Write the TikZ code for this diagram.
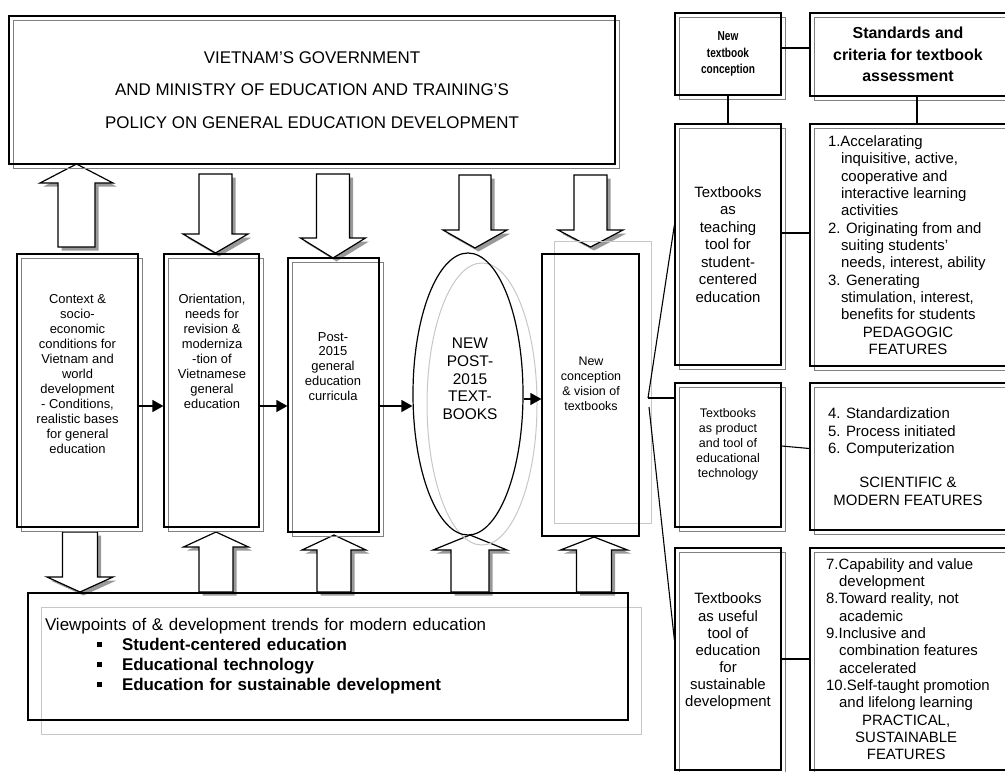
\documentclass[tikz,border=0pt]{standalone}
\usepackage{fontspec}
\setmainfont{Liberation Sans}
\newfontfamily\narrowsans[FakeStretch=0.78]{Liberation Sans}
\usetikzlibrary{arrows.meta,shapes.geometric}

% block arrow: x, tail y, head y, tip y, half shaft, half head (bp, y counted downwards)
\newcommand{\barrow}[6]{%
  \fill [black!40,shift={(3.5bp,-3.5bp)}] (#1bp-#5bp,-#2bp) -- (#1bp-#5bp,-#3bp) -- (#1bp-#6bp,-#3bp) -- (#1bp,-#4bp)
    -- (#1bp+#6bp,-#3bp) -- (#1bp+#5bp,-#3bp) -- (#1bp+#5bp,-#2bp) -- cycle;
  \draw [line width=1.2bp,fill=white] (#1bp-#5bp,-#2bp) -- (#1bp-#5bp,-#3bp) -- (#1bp-#6bp,-#3bp) -- (#1bp,-#4bp)
    -- (#1bp+#6bp,-#3bp) -- (#1bp+#5bp,-#3bp) -- (#1bp+#5bp,-#2bp) -- cycle;}
\newcommand{\critind}{\hspace*{13bp}}
\newcommand{\critmid}[1]{\makebox[160bp]{#1}}
\newcommand{\trendbul}{\hspace*{52bp}\rule[3.5bp]{5bp}{5bp}\hspace*{20bp}}

\begin{document}
\begin{tikzpicture}[
  box/.style={draw,line width=1.2bp,inner sep=0pt,
    preaction={draw=black!50,line width=1bp,transform canvas={shift={(4bp,-4bp)}}}},
  faint/.style={draw,line width=1.2bp,inner sep=0pt,
    preaction={draw=black!22,line width=1bp,transform canvas={shift={#1}}}},
  flow/.style={line width=1.3bp,-{Triangle[length=11bp,width=12bp]}},
  link/.style={line width=1.1bp},
  colt/.style={align=center,font=\fontsize{13}{15}\selectfont},
  crit/.style={align=left,font=\fontsize{15}{17.4}\selectfont}
]
\useasboundingbox (0bp,0bp) rectangle (1005bp,-772bp);

% block arrows
\barrow{76.5}{247}{183}{164}{18.5}{36.5}
\barrow{215.5}{174}{234}{253}{16.5}{32.5}
\barrow{333}{174}{238}{258}{16.5}{32.5}
\barrow{475}{175}{230}{248}{16}{32}
\barrow{590.5}{175}{230}{247}{16.5}{32.5}
\barrow{80}{532}{577}{592}{17.5}{33}
\barrow{216}{592}{547}{532}{17}{32.5}
\barrow{334}{592}{550}{535}{17}{32}
\barrow{470}{592}{550}{535}{19}{37}
\barrow{594}{592}{550}{537}{17.5}{33.5}

\node (policy) at (312bp,-90bp)[box,minimum width=606bp,minimum height=148bp,align=center,font=\fontsize{17}{32.5}\selectfont]
  {VIETNAM'S GOVERNMENT\\AND MINISTRY OF EDUCATION AND TRAINING'S\\POLICY ON GENERAL EDUCATION DEVELOPMENT};

% the chain of columns
\node (context) at (77.5bp,-390.5bp)[box,minimum width=121bp,minimum height=273bp] {};
\node (context-t) at (77.5bp,-374bp)[colt] {Context \&\\socio-\\economic\\conditions for\\Vietnam and\\world\\development\\- Conditions,\\realistic bases\\for general\\education};
\node (orient) at (211.5bp,-390.5bp)[box,minimum width=95bp,minimum height=273bp] {};
\node (orient-t) at (212bp,-351.5bp)[colt] {Orientation,\\needs for\\revision \&\\moderniza\\-tion of\\Vietnamese\\general\\education};
\node (curric) at (333.5bp,-395bp)[box,minimum width=91bp,minimum height=274bp] {};
\node (curric-t) at (333bp,-366.5bp)[colt] {Post-\\2015\\general\\education\\curricula};
\node (newbooks) at (468bp,-394bp)[faint={(14bp,-10bp)},ellipse,minimum width=110bp,minimum height=282bp] {};
\node (newbooks-t) at (470bp,-379bp)[align=center,font=\fontsize{15.5}{17.7}\selectfont] {NEW\\POST-\\2015\\TEXT-\\BOOKS};
\node (vision) at (590.5bp,-395bp)[faint={(12bp,13bp)},minimum width=97bp,minimum height=282bp] {};
\node (vision-t) at (591bp,-384bp)[align=center,font=\fontsize{12.5}{15}\selectfont] {New\\conception\\\& vision of\\textbooks};

\coordinate (row) at (0bp,-406bp);
\coordinate (row2) at (0bp,-399bp);
\draw [flow] (context.east |- row) -- (orient.west |- row);
\draw [flow] (orient.east |- row) -- (curric.west |- row);
\draw [flow] (curric.east |- row) -- (newbooks.west |- row);
\draw [flow] (newbooks.east |- row2) -- (vision.west |- row2);

% trends underneath
\node (trends) at (328bp,-656.5bp)[faint={(13bp,-14bp)},minimum width=600bp,minimum height=127bp,text width=566bp,align=left,font=\fontsize{17}{20}\selectfont]
  {Viewpoints of \& development trends for modern education\\
   \trendbul\textbf{Student-centered education}\\
   \trendbul\textbf{Educational technology}\\
   \trendbul\textbf{Education for sustainable development}};

% right hand side: textbook roles and criteria
\node (newbook) at (728bp,-54bp)[box,minimum width=106bp,minimum height=82bp,align=center,font=\fontsize{13}{16.5}\narrowsans\bfseries] {New\\textbook\\conception};
\node (standards) at (908bp,-54.5bp)[box,minimum width=196bp,minimum height=83bp,align=center,font=\fontsize{16}{21.5}\selectfont\bfseries] {Standards and\\criteria for textbook\\assessment};
\node (teach) at (728bp,-244.5bp)[box,minimum width=106bp,minimum height=241bp,align=center,font=\fontsize{15}{17.5}\selectfont] {Textbooks\\as\\teaching\\tool for\\student-\\centered\\education};
\node (crit1) at (908bp,-245bp)[box,crit,minimum width=196bp,minimum height=242bp]
  {1.Accelarating\\
   \critind inquisitive, active,\\
   \critind cooperative and\\
   \critind interactive learning\\
   \critind activities\\
   2. Originating from and\\
   \critind suiting students'\\
   \critind needs, interest, ability\\
   3. Generating\\
   \critind stimulation, interest,\\
   \critind benefits for students\\
   \critmid{PEDAGOGIC}\\
   \critmid{FEATURES}};
\node (product) at (728bp,-455bp)[box,minimum width=106bp,minimum height=144bp] {};
\node (product-t) at (728bp,-444.5bp)[align=center,font=\fontsize{12.5}{15}\selectfont] {Textbooks\\as product\\and tool of\\educational\\technology};
\node (crit2) at (908bp,-456.5bp)[box,crit,minimum width=196bp,minimum height=147bp]
  {4. Standardization\\
   5. Process initiated\\
   6. Computerization\\[17bp]
   \critmid{SCIENTIFIC \&}\\
   \critmid{MODERN FEATURES}};
\node (useful) at (728bp,-659bp)[box,minimum width=106bp,minimum height=222bp] {};
\node (useful-t) at (728bp,-651.5bp)[align=center,font=\fontsize{15}{17.2}\selectfont] {Textbooks\\as useful\\tool of\\education\\for\\sustainable\\development};
\node (crit3) at (908bp,-659bp)[box,crit,minimum width=196bp,minimum height=222bp]
  {7.Capability and value\\
   \critind development\\
   8.Toward reality, not\\
   \critind academic\\
   9.Inclusive and\\
   \critind combination features\\
   \critind accelerated\\
   10.Self-taught promotion\\
   \critind and lifelong learning\\
   \critmid{PRACTICAL,}\\
   \critmid{SUSTAINABLE}\\
   \critmid{FEATURES}};

\draw [link] ([yshift=6bp]newbook.east) -- ([yshift=6bp]newbook.east -| standards.west);
\draw [link] (newbook.south) -- (teach.north);
\draw [link] ([xshift=9bp]standards.south) -- ([xshift=9bp]crit1.north);
\draw [link] ([yshift=11.5bp]teach.east) -- ([yshift=11.5bp]teach.east -| crit1.west);
\draw [link] ([yshift=9bp]product.east) -- ([yshift=8bp]crit2.west);
\draw [link] (useful.east) -- (crit3.west);

% fan from the vision column to the three roles
\coordinate (fan) at (648bp,-398bp);
\coordinate (fan2) at (649bp,-407bp);
\draw [link] (fan) -- ([yshift=19.5bp]teach.west);
\draw [link] (fan) -- (fan -| product.west);
\draw [link] (fan2) -- ([yshift=19bp]useful.west);
\end{tikzpicture}
\end{document}
